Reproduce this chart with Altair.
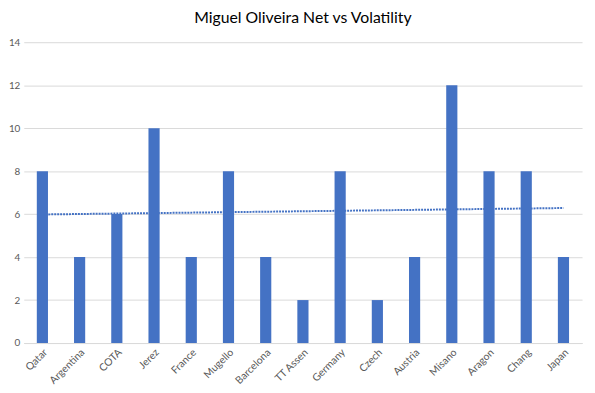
import altair as alt
import pandas as pd

races = ["Qatar", "Argentina", "COTA", "Jerez", "France", "Mugello", "Barcelona",
         "TT Assen", "Germany", "Czech", "Austria", "Misano", "Aragon", "Chang", "Japan"]
values = [8, 4, 6, 10, 4, 8, 4, 2, 8, 2, 4, 12, 8, 8, 4]
idx = list(range(1, len(races) + 1))

df = pd.DataFrame({"race": races, "value": values, "idx": idx})

FONT = "Lato"
BLUE = "#4472C4"

x_enc = alt.X("race:N", sort=races, title=None,
              scale=alt.Scale(paddingInner=0.7, paddingOuter=0.35),
              axis=alt.Axis(labelAngle=-45, labelFontSize=10.5, labelColor="#595959",
                            labelFont=FONT, ticks=False, domainColor="#d9d9d9",
                            labelPadding=4))
y_scale = alt.Scale(domain=[0, 14])
y_axis = alt.Axis(values=[0, 2, 4, 6, 8, 10, 12, 14], labelFontSize=10,
                  labelColor="#595959", labelFont=FONT, ticks=False, domain=False,
                  gridColor="#d9d9d9", labelPadding=4)

base = alt.Chart(df)

trend = base.transform_regression("idx", "value").transform_lookup(
    lookup="idx", from_=alt.LookupData(data=df, key="idx", fields=["race"])
).mark_line(color=BLUE, strokeWidth=2, strokeDash=[2, 1]).encode(
    x=x_enc,
    y=alt.Y("value:Q", scale=y_scale, axis=y_axis, title=None),
)

bars = base.mark_bar(color=BLUE).encode(
    x=x_enc,
    y=alt.Y("value:Q", scale=y_scale, axis=y_axis, title=None),
)

chart = alt.layer(trend, bars).properties(
    width=566, height=305,
    title=alt.TitleParams("Miguel Oliveira Net vs Volatility", fontSize=16,
                          font=FONT, fontWeight="normal", color="#000000", offset=11),
    autosize=alt.AutoSizeParams(type="none"),
    padding={"left": 16, "top": 32, "right": 5, "bottom": 50},
).configure_view(stroke=None)

chart.save("out.html", embed_options={"renderer": "svg", "actions": False})
